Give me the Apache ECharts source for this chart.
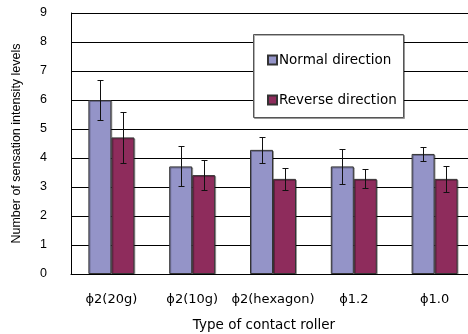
<!DOCTYPE html>
<html><head><meta charset="utf-8">
<script src="https://cdn.jsdelivr.net/npm/echarts@6/dist/echarts.min.js"></script>
<style>html,body{margin:0;padding:0;background:#fff}#c{width:468px;height:334px}</style>
</head><body><div id="c"></div>
<script>
var categories = ['ϕ2(20g)', 'ϕ2(10g)', 'ϕ2(hexagon)', 'ϕ1.2', 'ϕ1.0'];
var normalValues = [6.0, 3.71, 4.28, 3.71, 4.14];
var normalErrors = [0.69, 0.69, 0.44, 0.60, 0.25];
var reverseValues = [4.71, 3.41, 3.28, 3.28, 3.28];
var reverseErrors = [0.87, 0.53, 0.38, 0.33, 0.44];
var yTicks = [0, 1, 2, 3, 4, 5, 6, 7, 8, 9];

var BAR_W = 23;
function errSeries(vals, errs, offset) {
  return {
    type: 'custom', z: 5,
    data: vals.map(function (v, i) { return [i, v, errs[i]]; }),
    renderItem: function (params, api) {
      var i = api.value(0), v = api.value(1), e = api.value(2);
      var top = api.coord([i, v + e]);
      var bot = api.coord([i, v - e]);
      var x = Math.round(top[0] + offset) + 0.5;
      var ty = Math.round(top[1]) + 0.5, by = Math.round(bot[1]) + 0.5;
      var cw = 3;
      var st = { stroke: '#111', lineWidth: 1 };
      return { type: 'group', children: [
        { type: 'line', shape: { x1: x, y1: ty, x2: x, y2: by }, style: st },
        { type: 'line', shape: { x1: x - cw, y1: ty, x2: x + cw, y2: ty }, style: st },
        { type: 'line', shape: { x1: x - cw, y1: by, x2: x + cw, y2: by }, style: st }
      ]};
    },
    silent: true
  };
}
var chart = echarts.init(document.getElementById('c'));
var font = 'Liberation Sans, Arial, sans-serif';
var gfont = 'DejaVu Sans, sans-serif';
chart.setOption({
  animation: false,
  grid: { left: 71, right: -7, top: 13, bottom: 60, outerBoundsMode: 'none', containLabel: false },
  xAxis: {
    type: 'category', data: categories,
    name: 'Type of contact roller', nameLocation: 'middle', nameGap: 44,
    nameTextStyle: { fontFamily: gfont, fontSize: 13.5, color: '#000', padding: [0, 18, 0, 0] },
    axisLine: { lineStyle: { color: '#000', width: 1 } },
    axisTick: { inside: true, length: 4, lineStyle: { color: '#000' } },
    axisLabel: { interval: 0, hideOverlap: false, fontFamily: gfont, fontSize: 13, color: '#000', margin: 19 }
  },
  yAxis: {
    type: 'value', min: yTicks[0], max: yTicks[yTicks.length - 1], interval: 1,
    name: 'Number of sensation intensity levels', nameLocation: 'middle', nameGap: 48,
    nameTextStyle: { fontFamily: font, fontSize: 12.5, color: '#000' },
    axisLine: { show: true, lineStyle: { color: '#000000', width: 1 } },
    axisTick: { show: false },
    axisLabel: { fontFamily: font, fontSize: 12.5, color: '#000', margin: 24 },
    splitLine: { show: true, lineStyle: { color: '#000000', width: 1, opacity: 1 } }
  },
  legend: {
    orient: 'vertical', left: 262, top: 48, itemWidth: 9, itemHeight: 9, itemGap: 26, z: 20,
    icon: 'rect',
    textStyle: { fontFamily: gfont, fontSize: 13.5, color: '#000', padding: [0, 0, 0, -3] },
    data: ['Normal direction', 'Reverse direction']
  },
  graphic: [{
    type: 'rect', z: 15, left: 253, top: 34,
    shape: { width: 150, height: 83 },
    style: { fill: '#fff', stroke: '#555', lineWidth: 1,
      shadowColor: 'rgba(0,0,0,0.3)', shadowOffsetX: 1, shadowOffsetY: 1, shadowBlur: 0 }
  }],
  series: [
    { name: 'Normal direction', type: 'bar', data: normalValues, barWidth: BAR_W, barGap: '0%',
      itemStyle: { color: '#9494c8', borderColor: '#333', borderWidth: 1,
        shadowColor: 'rgba(0,0,0,0.3)', shadowOffsetX: 1, shadowOffsetY: 1 } },
    { name: 'Reverse direction', type: 'bar', data: reverseValues, barWidth: BAR_W,
      itemStyle: { color: '#8e2c5c', borderColor: '#333', borderWidth: 1,
        shadowColor: 'rgba(0,0,0,0.3)', shadowOffsetX: 1, shadowOffsetY: 1 } },
    errSeries(normalValues, normalErrors, -BAR_W / 2),
    errSeries(reverseValues, reverseErrors, BAR_W / 2)
  ]
});
</script></body></html>
